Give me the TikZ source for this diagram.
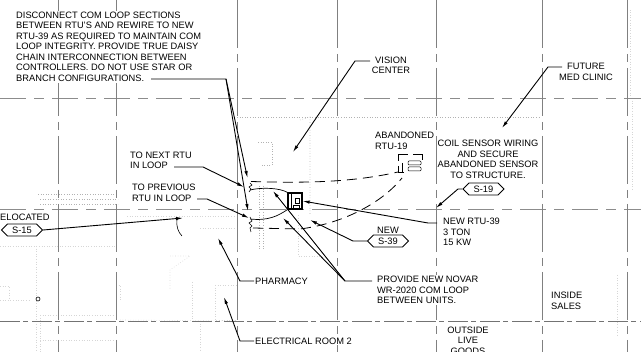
\documentclass[tikz,border=0pt]{standalone}
\usepackage{fontspec}
\setmainfont{Liberation Sans}
\usetikzlibrary{arrows.meta}
\usetikzlibrary{shapes.symbols}
\tikzset{
	note/.style={fill=white, inner sep=1pt, align=left, anchor=north west, font=\fontsize{9.3}{10.56}\selectfont},
	notec/.style={note, align=center, anchor=north},
	tag/.style={signal, signal to=east and west, draw, line width=0.8pt, fill=white, inner sep=0pt, minimum width=41pt, minimum height=12pt, font=\fontsize{9.3}{10.56}\selectfont},
	leader/.style={line width=0.9pt, -{Latex[length=7pt,width=3.4pt]}},
	gridh/.style={draw=black!45, line width=0.7pt, dash pattern=on 26pt off 8pt on 10pt off 8pt},
	gridv/.style={draw=black!50, line width=0.7pt, dash pattern=on 48pt off 6pt on 8pt off 6pt},
	faint/.style={draw=black!16, line width=0.6pt, dotted},
}
\begin{document}
\begin{tikzpicture}[x=1pt,y=-1pt]
		\useasboundingbox (0,0) rectangle (641,352);

		% floor plan, faint
		\draw[faint] (0,246) -- (116,246);
		\draw[faint] (36,246) -- (36,352);
		\draw[faint] (0,300) -- (30,300);
		\draw[faint] (0,286) -- (9,286) -- (9,300);
		\draw[faint] (40,315) -- (40,352);
		\draw[faint] (40,315) -- (115,315);
		\draw[faint, draw=black!30] (40,199) -- (118,199);
		\draw[faint, draw=black!30] (38,194) -- (118,194);
		\draw[faint, draw=black!30] (40,204) -- (118,204);
		\draw[faint] (127,216) -- (236,216);
		\draw[faint] (200,228) -- (236,228);
		\draw[faint] (116,285) -- (120,285) -- (120,300);
		\draw[faint] (170,256) -- (190,256) -- (170,270) -- (170,290);
		\draw[faint] (192,282) -- (192,320);
		\draw[faint] (215,285) -- (236,285);
		\draw[faint] (215,285) -- (215,320) -- (236,320);
		\draw[faint] (40,340) -- (115,340);
		\draw[faint] (120,320) -- (236,321);
		\draw[faint] (200,321) -- (200,352);
		\draw[faint, draw=black!30] (258,142) -- (272,142) -- (272,165) -- (260,165);
		\draw[faint, draw=black!30] (263,186) -- (263,250);
		\draw[faint, draw=black!30] (259,186) -- (259,250);
		\draw[faint, draw=black!30] (300,120) -- (310,117) -- (310,215);
		\draw[faint, draw=black!30] (237,117) -- (540,117);
		\draw[faint] (298,215) -- (298,256) -- (320,256);
		\draw[faint] (627,10) -- (630,10) -- (630,100);
		\draw[faint] (632,98) -- (632,190);
		\draw[faint] (617,275) -- (617,335);

		% grid
		\draw[gridh] (0,98) -- (641,98);
		\draw[gridh] (0,209) -- (641,209);
		\draw[draw=black!55, line width=0.4pt, dash pattern=on 20pt off 3pt on 5pt off 4pt] (0,321) -- (641,321);
		\foreach \gx in {58,116,237,337,436,542,627}
			\draw[gridv] (\gx,0) -- (\gx,352);

		% labels
		\node[note] (disconnect) at (15,10.5) {DISCONNECT COM LOOP SECTIONS\\BETWEEN RTU'S AND REWIRE TO NEW\\RTU-39 AS REQUIRED TO MAINTAIN COM\\LOOP INTEGRITY. PROVIDE TRUE DAISY\\CHAIN INTERCONNECTION BETWEEN\\CONTROLLERS. DO NOT USE STAR OR\\BRANCH CONFIGURATIONS.};
		\node[notec] (vision) at (391,55.5) {VISION\\CENTER};
		\node[notec] (future) at (586,62) {FUTURE\\MED CLINIC};
		\node[note] (nextrtu) at (129,150.5) {TO NEXT RTU\\IN LOOP};
		\node[note] (prevrtu) at (131,183) {TO PREVIOUS\\RTU IN LOOP};
		\node[note] (abandoned) at (374,131) {ABANDONED\\RTU-19};
		\node[notec] (coil) at (488,139) {COIL SENSOR WIRING\\AND SECURE\\ABANDONED SENSOR\\TO STRUCTURE.};
		\node[note, anchor=west] (relocated) at (-1,217) {ELOCATED};
		\node[note] (newrtu) at (442,217) {NEW RTU-39\\3 TON\\15 KW};
		\node[note, anchor=south] (newlabel) at (388,235) {NEW};
		\node[note] (novar) at (376,275) {PROVIDE NEW NOVAR\\WR-2020 COM LOOP\\BETWEEN UNITS.};
		\node[note, anchor=west] (pharmacy) at (254,281) {PHARMACY};
		\node[note, anchor=west] (elecroom) at (254,341) {ELECTRICAL ROOM 2};
		\node[note] (sales) at (550,291) {INSIDE\\SALES};
		\node[notec] (goods) at (468,325.5) {OUTSIDE\\LIVE\\GOODS};

		\node[tag] (s15) at (22,230) {S-15};
		\node[tag] (s19) at (483.5,189) {S-19};
		\node[tag] (s39) at (388,241) {S-39};

		% new rtu
		\node[draw, line width=1.2pt, minimum width=14pt, minimum height=16pt, inner sep=0pt] (rtu39) at (295,201) {};
		\draw[line width=0.6pt] (291,193) -- (291,209);
		\draw[line width=0.6pt] (295,198) rectangle (299,203);
		\draw[line width=0.6pt] (293,209) -- (293,205) -- (299,205) -- (299,209);

		% abandoned rtu
		\coordinate (rtu19) at (398,172);
		\draw[line width=0.5pt] (398,161) -- (398,154) -- (408,154);
		\draw[line width=0.5pt] (413,154) -- (422,154) -- (422,160);
		\draw[line width=0.5pt] (398,166) -- (398,172) -- (404,172);
		\draw[line width=0.5pt] (402,163) -- (402,172);
		\draw[line width=0.5pt, rounded corners=1pt] (408,161) rectangle (421,165);
		\draw[line width=0.5pt, rounded corners=1pt] (408,167) rectangle (421,171);

		% com loop
		\coordinate (nexta) at (250,190);
		\coordinate (preva) at (250,219);
		\draw[line width=0.7pt] (nexta) .. controls (262,187) and (280,188) .. (rtu39.north west);
		\draw[line width=0.7pt] (preva) .. controls (268,221) and (278,216) .. (rtu39.south west);
		\draw[line width=0.6pt] (250,183) -- (252,185) -- (249,187) -- (251,189) -- (249,192);
		\draw[line width=0.6pt] (250,217) -- (252,221) -- (249,223) -- (252,226) -- (250,228) -- (251,232);

		% dashed wiring
		\draw[line width=0.8pt, dash pattern=on 10pt off 6pt] (251,181.5) .. controls (300,183) and (350,183) .. (rtu19);
		\draw[line width=0.8pt, dash pattern=on 10pt off 6pt] (253,228) -- (300,229) .. controls (340,224) and (380,205) .. (402,178);

		% arrows
		\coordinate (disconnectend) at (151,79);
		\coordinate (disconnectbend) at (226,79);
		\coordinate (disconnecta) at (247.5,178);
		\coordinate (disconnectb) at (248,211);
		\draw[leader] (disconnectend) -- (disconnectbend) -- (disconnecta);
		\draw[leader] (disconnectbend) -- (disconnectb);

		\coordinate (nextend) at (174,167);
		\coordinate (nextbend) at (203,167);
		\coordinate (nexttip) at (244,187);
		\draw[leader] (nextend) -- (nextbend) -- (nexttip);

		\coordinate (prevend) at (197,199);
		\coordinate (prevbend) at (207,199);
		\coordinate (prevtip) at (249,218);
		\draw[leader] (prevend) -- (prevbend) -- (prevtip);

		\coordinate (visionend) at (370,61);
		\coordinate (visionbend) at (355,61);
		\coordinate (visiontip) at (293,152);
		\draw[leader] (visionend) -- (visionbend) -- (visiontip);

		\coordinate (futureend) at (562,67);
		\coordinate (futurebend) at (548,67);
		\coordinate (futuretip) at (502,128);
		\draw[leader] (futureend) -- (futurebend) -- (futuretip);

		\coordinate (s19bend) at (458,189);
		\coordinate (s19tip) at (436,208);
		\draw[leader] (s19.west) -- (s19bend) -- (s19tip);

		\coordinate (newrtuend) at (437,223);
		\coordinate (newrtubend) at (428,223);
		\draw[leader] (newrtuend) -- (newrtubend) -- (rtu39.east);

		\coordinate (s39bend) at (353,241);
		\coordinate (s39tip) at (310,220);
		\draw[leader] (s39.west) -- (s39bend) -- (s39tip);

		\coordinate (s15tip) at (183,218);
		\draw[leader] (s15.east) -- (s15tip);
		\draw[line width=0.6pt] (177,219) .. controls (176,226) and (178,232) .. (182,236);

		\coordinate (novarend) at (372,281);
		\coordinate (novarbend) at (345,281);
		\coordinate (novara) at (273,191);
		\coordinate (novarb) at (283,218);
		\draw[leader] (novarend) -- (novarbend) -- (novara);
		\draw[leader] (novarbend) -- (novarb);

		\coordinate (pharmacybend) at (240,281);
		\coordinate (pharmacytip) at (218,238);
		\draw[leader] (pharmacy.west) -- (pharmacybend) -- (pharmacytip);

		\coordinate (elecbend) at (240,341);
		\coordinate (electip) at (224,297);
		\draw[leader] (elecroom.west) -- (elecbend) -- (electip);

		% small circle
		\node[draw, circle, line width=0.6pt, inner sep=0pt, minimum size=4pt] (marker) at (38,299) {};
    \end{tikzpicture}
\end{document}
